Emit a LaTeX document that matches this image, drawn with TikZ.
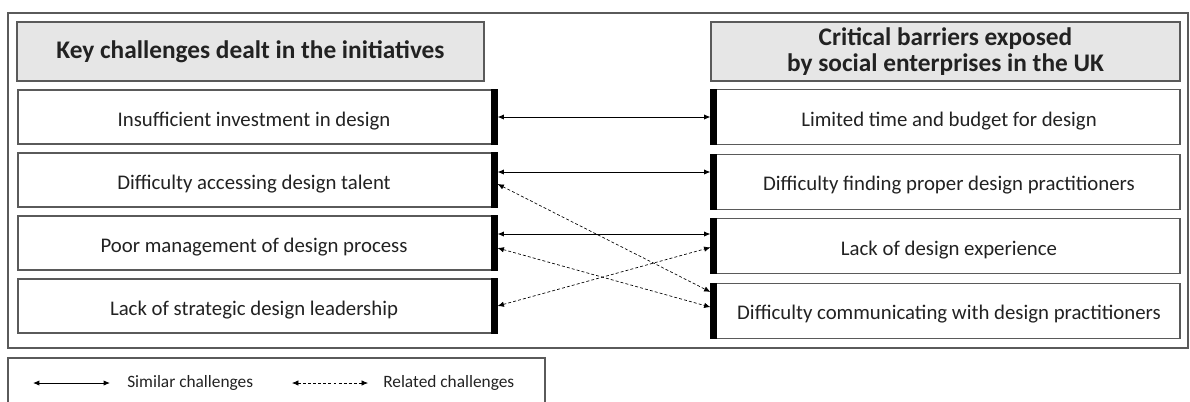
\documentclass[tikz,border=0pt]{standalone}
\usepackage{fontspec}
\setmainfont{Carlito}
\usetikzlibrary{arrows.meta}
\usetikzlibrary{positioning}

\definecolor{framegray}{HTML}{5A5A5A}
\definecolor{headgray}{HTML}{E6E6E6}
\definecolor{inkgray}{HTML}{222222}

\begin{document}
\begin{tikzpicture}[x=0.75pt,y=-0.75pt,>={Latex[length=4.8pt,width=4pt]},
        box/.style={rectangle,draw=framegray,line width=0.8pt,fill=white,inner sep=0pt,
                    text=inkgray,font=\fontsize{15.6}{18}\selectfont},
        head box/.style={box,fill=headgray,minimum width=350.25pt,minimum height=44.25pt,
                    align=center,font=\bfseries\fontsize{19}{20}\selectfont},
        % text sits in the white part, away from the black bar
        left item/.style={box,minimum width=359.25pt,minimum height=40.5pt,
                    text height=14pt,text depth=0.5pt,execute at begin node=\hspace*{-5.25pt}},
        right item/.style={box,minimum width=351.75pt,minimum height=41.25pt,
                    text height=14pt,text depth=0.5pt,execute at begin node=\hspace*{5.25pt}},
        similar/.style={<->,line width=0.7pt},
        related/.style={<->,line width=0.5pt,dash pattern=on 2.2pt off 1.6pt},
        legend text/.style={anchor=west,inner sep=0pt,text=inkgray,font=\fontsize{13}{15}\selectfont}]

    \useasboundingbox (0,0) rectangle (1190,401);

    % frames
    \draw[framegray,line width=0.8pt] (8,13) rectangle (1188,348);
    \draw[framegray,line width=0.8pt] (8,358) rectangle (545,430);

    % column heads
    \node[head box] (lhead) at (250.5,51.5) {Key challenges dealt in the initiatives};
    \node[head box,minimum width=351.75pt] (rhead) at (945.5,51.5) {Critical barriers exposed\\by social enterprises in the UK};

    % challenges
    \node[left item] (l1) at (257.5,117) {Insufficient investment in design};
    \begin{scope}[node distance=47.25pt]
        \node[left item] (l2) [below of=l1] {Difficulty accessing design talent};
        \node[left item] (l3) [below of=l2] {Poor management of design process};
        \node[left item] (l4) [below of=l3] {Lack of strategic design leadership};
    \end{scope}

    % barriers
    \node[right item] (r1) at (945.5,117) {Limited time and budget for design};
    \begin{scope}[node distance=48.4pt]
        \node[right item] (r2) [below of=r1] {Difficulty finding proper design practitioners};
        \node[right item] (r3) [below of=r2] {Lack of design experience};
        \node[right item] (r4) [below of=r3] {Difficulty communicating with design practitioners};
    \end{scope}

    % black edge bars facing the links
    \foreach \n in {l1,l2,l3,l4}
        \fill (\n.north east) rectangle ([xshift=-5.25pt]\n.south east);
    \foreach \n in {r1,r2,r3,r4}
        \fill (\n.north west) rectangle ([xshift=5.25pt]\n.south west);

    % links
    \draw[similar] (l1) -- (r1);
    \draw[similar] ([yshift=6pt]l2.east) -- ([yshift=6pt]l2.east -| r2.west);
    \draw[similar] ([yshift=6.75pt]l3.east) -- ([yshift=6.75pt]l3.east -| r3.west);
    \draw[related] ([yshift=-3pt]l2.east) -- ([yshift=14pt]r4.west);
    \draw[related] ([yshift=-3.75pt]l3.east) -- ([yshift=2.6pt]r4.west);
    \draw[related] (l4.east) -- ([yshift=-1pt]r3.west);

    % legend
    \coordinate (sa) at (33,383);
    \coordinate (sb) at (110,383);
    \node[legend text] (simtext) at (127,383) {Similar challenges};
    \coordinate (ra) at (292,383);
    \coordinate (rb) at (368,383);
    \node[legend text] (reltext) at (383,383) {Related challenges};
    \draw[similar] (sa) -- (sb);
    \draw[related] (ra) -- (rb);
\end{tikzpicture}
\end{document}
